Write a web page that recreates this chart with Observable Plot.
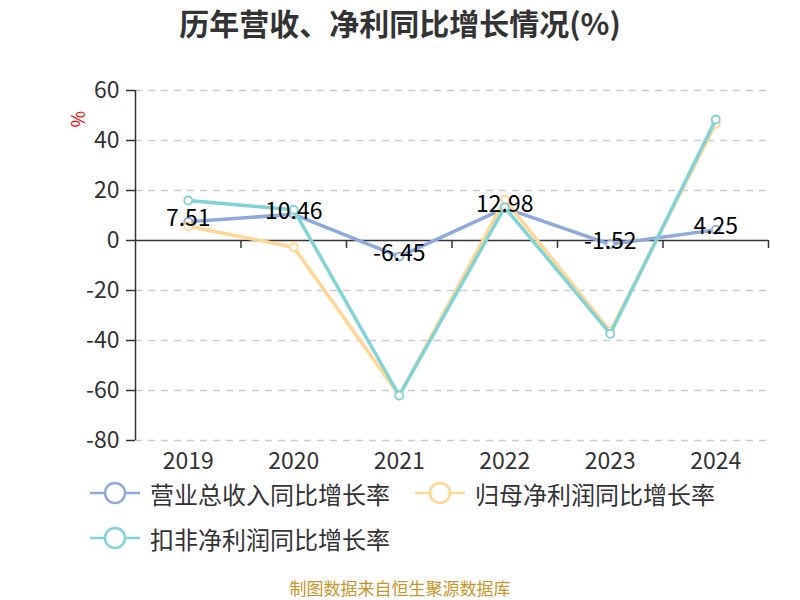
<!DOCTYPE html>
<html>
<head>
<meta charset="utf-8">
<script src="https://cdn.jsdelivr.net/npm/d3@7"></script>
<script src="https://cdn.jsdelivr.net/npm/@observablehq/plot@0.6"></script>
<style>
  body { margin: 0; width: 800px; height: 600px; background: #fff; font-family: "Noto Sans CJK SC", "Noto Sans", sans-serif; overflow: hidden; position: relative; }
  #title { height: 45px; line-height: 45px; text-align: center; font-size: 30px; font-weight: bold; color: #333; }
  #legend { position: relative; height: 90px; }
  .item { position: absolute; display: flex; align-items: center; height: 30px; font-size: 24px; color: #333; }
  .item svg { margin-right: 10px; }
  #footer { position: absolute; left: 0; width: 800px; top: 578px; height: 20px; line-height: 20px; text-align: center; font-size: 17px; color: #c9952b; }
</style>
</head>
<body>
<div id="title">历年营收、净利同比增长情况(%)</div>
<div id="chart"></div>
<div id="legend"></div>
<div id="footer">制图数据来自恒生聚源数据库</div>
<script>
const years = ["2019", "2020", "2021", "2022", "2023", "2024"];
const seriesNames = ["营业总收入同比增长率", "归母净利润同比增长率", "扣非净利润同比增长率"];
const colors = ["#8eaadb", "#ffd694", "#80d3d6"];
const revenueGrowth = [7.51, 10.46, -6.45, 12.98, -1.52, 4.25];
const netProfitGrowth = [5.7, -2.7, -62.0, 16.3, -36.3, 46.7];
const deductedProfitGrowth = [16.0, 12.3, -62.0, 13.3, -37.3, 48.4];
const yTicks = [-80, -60, -40, -20, 0, 20, 40, 60];

const allSeries = [revenueGrowth, netProfitGrowth, deductedProfitGrowth];
const data = allSeries.flatMap((vals, s) =>
  vals.map((v, i) => ({series: seriesNames[s], idx: i, year: years[i], value: v})));
const xIdx = years.map((_, i) => i);
const boundaries = years.map((_, i) => i + 0.5);
const font = "Noto Sans CJK SC";

const marks = [
  Plot.ruleY(yTicks.filter(d => d !== 0), {stroke: "#cccccc", strokeWidth: 1.5, strokeDasharray: "7,6"}),
  Plot.ruleX([-0.5], {stroke: "#333", strokeWidth: 1.5}),
  Plot.ruleY([0], {stroke: "#333", strokeWidth: 1.5}),
  Plot.ruleX(boundaries, {x: d => d, y1: 0, y2: 0, insetBottom: -8, stroke: "#333", strokeWidth: 1.5}),
  Plot.axisY({ticks: yTicks, tickSize: 9, tickPadding: 7, tickFormat: d => String(d), fontSize: 23, color: "#333", stroke: "#333", strokeWidth: 1.5, label: null, fontFamily: font}),
  Plot.axisX({ticks: xIdx, tickSize: 0, tickPadding: 12, tickFormat: i => years[i], fontSize: 23, color: "#333", label: null, fontFamily: font}),
  Plot.text(["%"], {frameAnchor: "top-left", dx: -63, dy: 37, rotate: -90, fill: "#ff0000", fontSize: 18, fontFamily: font})
];
seriesNames.forEach((name, s) => {
  const d = data.filter(r => r.series === name);
  marks.push(Plot.line(d, {x: "idx", y: "value", stroke: colors[s], strokeWidth: 3.5}));
  marks.push(Plot.dot(d, {x: "idx", y: "value", r: 4, fill: "white", stroke: colors[s], strokeWidth: 1.8}));
});
marks.push(Plot.text(data.filter(r => r.series === seriesNames[0]), {
  x: "idx", y: "value", text: d => d.value.toFixed(2), dy: -3, fill: "#000", fontSize: 23, fontFamily: font
}));

const chart = Plot.plot({
  width: 800, height: 430,
  marginTop: 45, marginBottom: 35, marginLeft: 135, marginRight: 32,
  x: {type: "linear", domain: [-0.5, 5.5]},
  y: {domain: [-80, 60]},
  style: {fontFamily: font, background: "white", overflow: "visible"},
  marks
});
document.getElementById("chart").appendChild(chart);

const legend = document.getElementById("legend");
const positions = [{left: 90, top: 3}, {left: 415, top: 3}, {left: 90, top: 48}];
seriesNames.forEach((name, s) => {
  const item = document.createElement("div");
  item.className = "item";
  item.style.left = positions[s].left + "px";
  item.style.top = positions[s].top + "px";
  item.innerHTML = `<svg width="50" height="26"><line x1="0" x2="50" y1="13" y2="13" stroke="${colors[s]}" stroke-width="2.5"/><circle cx="25" cy="13" r="10" fill="white" stroke="${colors[s]}" stroke-width="2.5"/></svg><span>${name}</span>`;
  legend.appendChild(item);
});
</script>
</body>
</html>
